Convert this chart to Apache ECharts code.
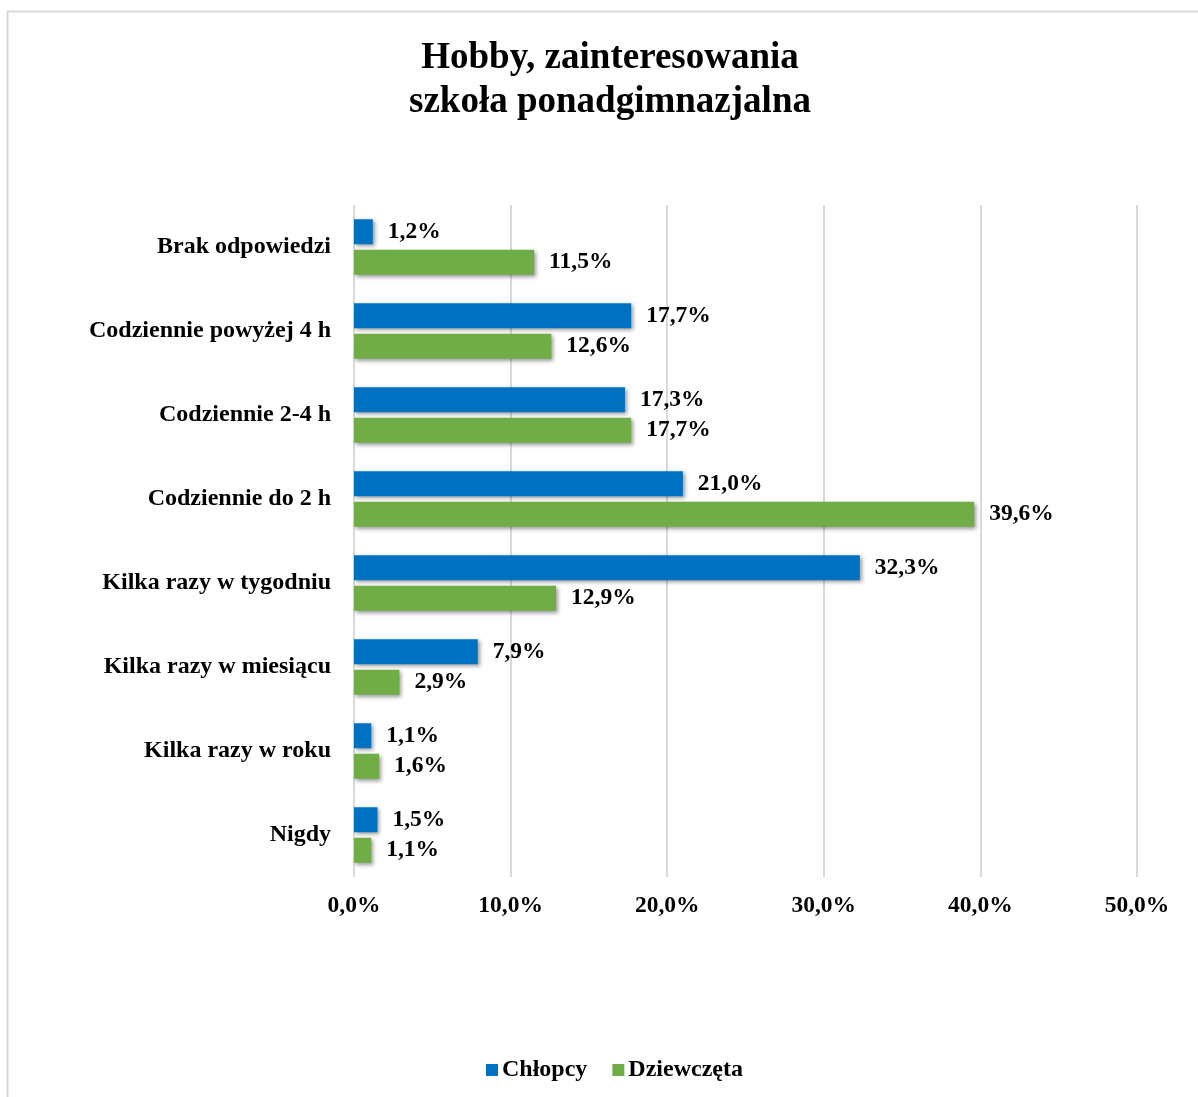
<!DOCTYPE html>
<html>
<head>
<meta charset="utf-8">
<script src="https://cdn.jsdelivr.net/npm/echarts@6/dist/echarts.min.js"></script>
<style>
html,body{margin:0;padding:0;background:#fff;}
#chart{width:1198px;height:1097px;}
</style>
</head>
<body>
<div id="chart"></div>
<script>
const categories = ["Brak odpowiedzi","Codziennie powyżej 4 h","Codziennie 2-4 h","Codziennie do 2 h","Kilka razy w tygodniu","Kilka razy w miesiącu","Kilka razy w roku","Nigdy"];
const seriesNames = ["Chłopcy","Dziewczęta"];
const boys = [1.2, 17.7, 17.3, 21.0, 32.3, 7.9, 1.1, 1.5];
const girls = [11.5, 12.6, 17.7, 39.6, 12.9, 2.9, 1.6, 1.1];
const xTicks = [0, 10, 20, 30, 40, 50];
const titleText = 'Hobby, zainteresowania\nszkoła ponadgimnazjalna';

const FONT = '"Liberation Serif", "Times New Roman", serif';
const fmt = v => v.toFixed(1).replace('.', ',') + '%';
const chart = echarts.init(document.getElementById('chart'));
const mkSeries = (name, data, color) => ({
  name, type: 'bar', data,
  barWidth: 25, barGap: '22%',
  itemStyle: {color, shadowColor: 'rgba(0,0,0,0.4)', shadowBlur: 4, shadowOffsetX: 2, shadowOffsetY: 2},
  label: {show: true, position: 'right', distance: 15, formatter: p => fmt(p.value),
    fontFamily: FONT, fontWeight: 'bold', fontSize: 23.5, color: '#000'}
});
chart.setOption({
  animation: false,
  backgroundColor: '#fff',
  graphic: [
    {type: 'rect', shape: {x: 7.5, y: 11.5, width: 1220, height: 1120},
      style: {fill: 'none', stroke: '#d9d9d9', lineWidth: 2}, silent: true, z: -1},
    {type: 'text', x: 610, y: 36, silent: true,
      style: {text: titleText, align: 'center', verticalAlign: 'top', fill: '#000',
        fontFamily: FONT, fontWeight: 'bold', fontSize: 37, lineHeight: 44}}
  ],
  legend: {bottom: 10, left: 481, itemWidth: 12, itemHeight: 12, itemGap: 25,
    icon: 'rect', data: seriesNames,
    textStyle: {fontFamily: FONT, fontWeight: 'bold', fontSize: 24, color: '#000', padding: [0,0,0,-1]}},
  grid: {left: 354, right: 61, top: 205, bottom: 220, containLabel: false},
  xAxis: {type: 'value', min: xTicks[0], max: xTicks[xTicks.length-1], interval: 10,
    axisLine: {show: false}, axisTick: {show: false},
    splitLine: {lineStyle: {color: '#d9d9d9', width: 2}},
    axisLabel: {margin: 17, formatter: v => fmt(v), fontFamily: FONT, fontWeight: 'bold', fontSize: 23.5, color: '#000'}},
  yAxis: {type: 'category', data: categories, inverse: true,
    axisLine: {show: false}, axisTick: {show: false},
    axisLabel: {margin: 23, fontFamily: FONT, fontWeight: 'bold', fontSize: 24, color: '#000'}},
  series: [mkSeries(seriesNames[0], boys, '#0070C0'), mkSeries(seriesNames[1], girls, '#70AD47')]
});
</script>
</body>
</html>
